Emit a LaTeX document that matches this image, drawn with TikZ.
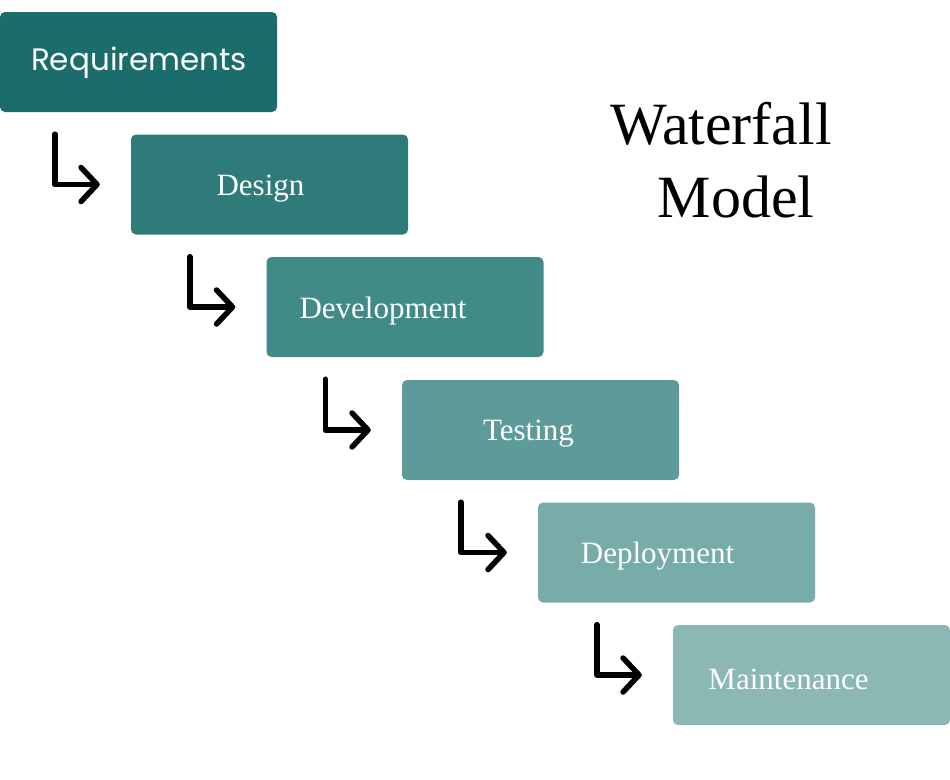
\documentclass[tikz,border=0pt]{standalone}
\usepackage{fontspec}
\setmainfont{Liberation Serif}
\newfontfamily\poppins{Poppins}
\usetikzlibrary{arrows.meta}

\definecolor{tealA}{HTML}{1B6D6C}
\definecolor{tealB}{HTML}{2E7B79}
\definecolor{tealC}{HTML}{408A88}
\definecolor{tealD}{HTML}{5C9B99}
\definecolor{tealE}{HTML}{77ACA9}
\definecolor{tealF}{HTML}{8BB8B5}

\begin{document}
\begin{tikzpicture}[x=1pt, y=-1pt,
    phase/.style = {rounded corners=5pt, minimum width=277pt, minimum height=100pt, inner sep=0pt},
    txt/.style = {text=white, font=\fontsize{31}{34}\selectfont},
    flow/.style = {line width=5.5pt, line cap=round, line join=round, -{Straight Barb[length=16pt, width=34pt, round]}}]

    \useasboundingbox (0,0) rectangle (950,779);

    % Faze
    \node[phase, fill=tealA] (1) at (138.5,62) {};
    \node[phase, fill=tealB] (2) at (269.5,184.5) {};
    \node[phase, fill=tealC] (3) at (405,307) {};
    \node[phase, fill=tealD] (4) at (540.5,430) {};
    \node[phase, fill=tealE] (5) at (676.5,552.5) {};
    \node[phase, fill=tealF] (6) at (811.5,675) {};

    % Besedila
    \node[txt, font=\poppins\fontsize{31}{34}\selectfont] (t1) at (139,63) {Requirements};
    \node[txt] (t2) at ([xshift=-9pt, yshift=-4pt]2.center) {Design};
    \node[txt] (t3) at ([xshift=-22pt, yshift=-4pt]3.center) {Development};
    \node[txt] (t4) at ([xshift=-12pt, yshift=-4pt]4.center) {Testing};
    \node[txt] (t5) at ([xshift=-19pt, yshift=-4pt]5.center) {Deployment};
    \node[txt] (t6) at ([xshift=-23pt, yshift=-4pt]6.center) {Maintenance};

    % Naslov
    \node[font=\fontsize{60}{73}\selectfont, align=center] (naslov) at (721,160) {Waterfall\\ \hspace*{0.5em}Model};

    % Puscice
    \draw[flow] (1.south west) ++(55,22) |- ([xshift=-31pt]2.west);
    \draw[flow] (2.south west) ++(59,22) |- ([xshift=-31pt]3.west);
    \draw[flow] (3.south west) ++(59,22) |- ([xshift=-31pt]4.west);
    \draw[flow] (4.south west) ++(59,22) |- ([xshift=-31pt]5.west);
    \draw[flow] (5.south west) ++(59,22) |- ([xshift=-31pt]6.west);

\end{tikzpicture}
\end{document}
